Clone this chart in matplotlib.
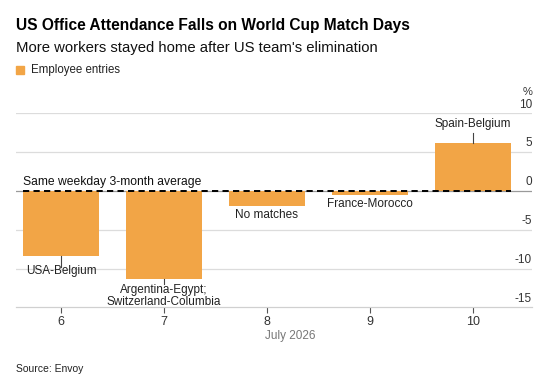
import matplotlib
matplotlib.use("Agg")
import matplotlib.pyplot as plt

days = [6, 7, 8, 9, 10]
values = [-8.4, -11.4, -1.9, -0.5, 6.2]
match_labels = ["USA-Belgium", "Argentina-Egypt;\nSwitzerland-Columbia", "No matches",
                "France-Morocco", "Spain-Belgium"]
yticks = [-15, -10, -5, 0, 5, 10]

W, H = 550, 384
fig = plt.figure(figsize=(5.5, 3.84), dpi=100)
plt.rcParams['font.family'] = ['Liberation Sans', 'DejaVu Sans']

def fx(px):
    return px / W

def fy(py):
    return 1 - py / H

ax = fig.add_axes([fx(16), fy(307.3), fx(532 - 16), fy(113.3) - fy(307.3)])
ax.set_xlim(5.563, 10.573)
ax.set_ylim(-15, 10)

bar_color = "#F2A546"
bw = 0.74
ax.bar(days, values, width=bw, color=bar_color, zorder=2)

# gridlines
for t in yticks:
    if t == -15:
        continue
    ax.axhline(t, color="#dcdcdc" if t != 0 else "#9a9a9a", lw=0.9, zorder=1)
    ax.text(1.0, t + 0.35, str(t), transform=ax.get_yaxis_transform(), ha="right",
            va="bottom", fontsize=8.5, color="#333333")
ax.text(1.0, -15 + 0.35, "-15", transform=ax.get_yaxis_transform(), ha="right",
        va="bottom", fontsize=8.5, color="#333333")
ax.text(0.992, 10 + 2.1, "%", transform=ax.get_yaxis_transform(), ha="center",
        va="bottom", fontsize=8, color="#333333", clip_on=False)

# dashed average line across the bars
ax.plot([days[0] - bw / 2, days[-1] + bw / 2], [0, 0], color="black", lw=1.4,
        ls=(0, (3.2, 2.2)), zorder=3)
ax.text(days[0] - bw / 2 + 0.005, 0.35, "Same weekday 3-month average", ha="left",
        va="bottom", fontsize=8.7, color="#111111", zorder=4)

for sp in ["top", "right", "left"]:
    ax.spines[sp].set_visible(False)
ax.spines["bottom"].set_color("#d0d0d0")
ax.spines["bottom"].set_linewidth(0.9)
ax.set_yticks([])
ax.set_xticks(days)
ax.set_xticklabels([str(d) for d in days], fontsize=9, color="#333333")
ax.tick_params(axis="x", length=4, width=0.8, color="#555555", pad=2)

# annotations
lab_col = "#222222"
fs = 8.5
# USA-Belgium
ax.plot([6, 6], [values[0], values[0] - 1.4], color="#444444", lw=0.8, zorder=3)
ax.text(6, values[0] - 1.2, match_labels[0], ha="center", va="top", fontsize=fs, color=lab_col)
# Argentina
ax.plot([7, 7], [values[1], values[1] - 0.6], color="#444444", lw=0.8, zorder=3)
ax.text(7, values[1] - 0.6, match_labels[1], ha="center", va="top", fontsize=fs,
        color=lab_col, linespacing=0.95)
# No matches
ax.text(8, values[2] - 0.45, match_labels[2], ha="center", va="top", fontsize=fs, color=lab_col)
# France-Morocco
ax.text(9, values[3] - 0.4, match_labels[3], ha="center", va="top", fontsize=fs, color=lab_col)
# Spain-Belgium
ax.plot([10, 10], [values[4], values[4] + 1.25], color="#444444", lw=0.8, zorder=3)
ax.text(10, values[4] + 1.65, match_labels[4], ha="center", va="bottom", fontsize=fs, color=lab_col)

# x axis label
fig.text(fx(290), fy(336.5), "July 2026", ha="center", va="center", fontsize=8.5,
         color="#777777")

# titles
fig.text(fx(16), fy(25.5), "US Office Attendance Falls on World Cup Match Days", ha="left",
         va="center", fontsize=11.2, fontweight="bold", color="#000000")
fig.text(fx(16), fy(48), "More workers stayed home after US team's elimination", ha="left",
         va="center", fontsize=10.7, color="#111111")
fig.patches.append(plt.Rectangle((fx(16), fy(74)), fx(8), fy(66) - fy(74), transform=fig.transFigure,
                                 color=bar_color, figure=fig))
fig.text(fx(31), fy(70), "Employee entries", ha="left", va="center", fontsize=8.3, color="#222222")
fig.text(fx(16), fy(369), "Source: Envoy", ha="left", va="center", fontsize=7.5, color="#222222")

fig.savefig("out.png", dpi=100, facecolor="white")
